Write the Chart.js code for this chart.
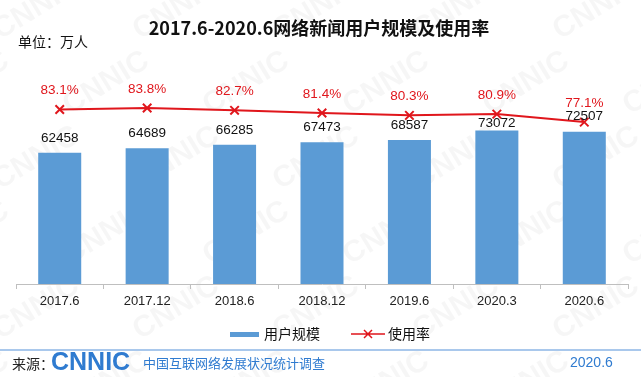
<!DOCTYPE html>
<html lang="zh">
<head>
<meta charset="UTF-8">
<title>2017.6-2020.6网络新闻用户规模及使用率</title>
<script src="https://cdn.jsdelivr.net/npm/chart.js"></script>
<style>
  body { margin: 0; background: #fff; }
  canvas { display: block; }
</style>
</head>
<body>
<canvas id="chart" width="641" height="377"></canvas>
<script>
// values
const periods = ['2017.6', '2017.12', '2018.6', '2018.12', '2019.6', '2020.3', '2020.6'];
const users = [62458, 64689, 66285, 67473, 68587, 73072, 72507];      // 万人
const usageRate = [83.1, 83.8, 82.7, 81.4, 80.3, 80.9, 77.1];          // %

const CJK = '"Noto Sans CJK SC", sans-serif';
const LAT = '"Liberation Sans", Arial, sans-serif';
const BLUE = '#5B9BD5';
const RED = '#E0161C';

const extras = {
    id: 'extras',
    beforeDraw(chart) {
        const ctx = chart.ctx;
        ctx.save();
        ctx.fillStyle = '#fff';
        ctx.fillRect(0, 0, chart.width, chart.height);
        // CNNIC watermark
        ctx.font = 'bold 30px ' + LAT;
        ctx.fillStyle = 'rgba(0,0,0,0.035)';
        for (let row = -1; row < 7; row++) {
            for (let col = -1; col < 6; col++) {
                const x = col * 140 + (row % 2) * 70;
                const y = row * 75 + 40;
                ctx.save();
                ctx.translate(x, y);
                ctx.rotate(-0.55);
                ctx.fillText('CNNIC', 0, 0);
                ctx.restore();
            }
        }
        ctx.restore();
    },
    afterDatasetsDraw(chart) {
        const ctx = chart.ctx;
        const points = chart.getDatasetMeta(0).data;
        ctx.save();
        ctx.textAlign = 'center';
        ctx.textBaseline = 'middle';
        ctx.font = '13.5px ' + LAT;
        ctx.fillStyle = '#111';
        chart.getDatasetMeta(1).data.forEach((bar, i) => {
            let y = bar.y - 15;
            // tuck the label under the line when the cross sits right on it
            if (Math.abs(points[i].y - y) < 4) y = bar.y - 7;
            ctx.fillText(users[i], bar.x, y);
        });
        ctx.fillStyle = RED;
        points.forEach((pt, i) => {
            ctx.fillText(usageRate[i].toFixed(1) + '%', pt.x, pt.y - 19);
        });
        ctx.restore();
    },
    afterDraw(chart) {
        const ctx = chart.ctx;
        ctx.save();
        ctx.textBaseline = 'middle';

        // title
        ctx.fillStyle = '#111';
        ctx.textAlign = 'center';
        ctx.font = 'bold 18px ' + CJK;
        ctx.fillText('2017.6-2020.6网络新闻用户规模及使用率', 319, 28);
        ctx.textAlign = 'left';
        ctx.font = '14px ' + CJK;
        ctx.fillText('单位：万人', 18, 42);

        // legend
        ctx.fillStyle = BLUE;
        ctx.fillRect(230, 332, 29, 5);
        ctx.fillStyle = '#111';
        ctx.font = '14px ' + CJK;
        ctx.fillText('用户规模', 264, 334);
        ctx.strokeStyle = RED;
        ctx.lineWidth = 1.5;
        ctx.beginPath();
        ctx.moveTo(351, 334); ctx.lineTo(385, 334);
        ctx.moveTo(364, 330); ctx.lineTo(372, 338);
        ctx.moveTo(372, 330); ctx.lineTo(364, 338);
        ctx.stroke();
        ctx.fillText('使用率', 388, 334);

        // footer
        ctx.fillStyle = '#A9C8EC';
        ctx.fillRect(0, 349, chart.width, 2);
        ctx.fillStyle = '#222';
        ctx.font = '14px ' + CJK;
        ctx.fillText('来源：', 12, 364);
        ctx.fillStyle = '#2F7BD0';
        ctx.font = 'bold 25px ' + LAT;
        ctx.fillText('CNNIC', 51, 363);
        ctx.font = '13px ' + CJK;
        ctx.fillText('中国互联网络发展状况统计调查', 143, 363);
        ctx.font = '14px ' + LAT;
        ctx.fillText('2020.6', 570, 363);
        ctx.restore();
    }
};

new Chart(document.getElementById('chart'), {
    data: {
        labels: periods,
        datasets: [
            {
                type: 'line',
                label: '使用率',
                data: usageRate,
                yAxisID: 'yRate',
                borderColor: RED,
                borderWidth: 2,
                pointStyle: 'crossRot',
                pointRadius: 6,
                pointBorderWidth: 2,
                pointBorderColor: RED,
                tension: 0,
                order: 1
            },
            {
                type: 'bar',
                label: '用户规模',
                data: users,
                yAxisID: 'yUsers',
                backgroundColor: BLUE,
                barPercentage: 0.6,
                categoryPercentage: 0.82,
                order: 2
            }
        ]
    },
    options: {
        responsive: false,
        animation: false,
        layout: { padding: { left: 16, right: 13, top: 74, bottom: 63 } },
        plugins: {
            legend: { display: false },
            tooltip: { enabled: false }
        },
        scales: {
            x: {
                afterFit: s => { s.height = 30; },
                grid: { offset: true, drawOnChartArea: false, drawTicks: true, tickLength: 5, color: '#BFBFBF' },
                border: { color: '#BFBFBF' },
                ticks: { color: '#222', font: { family: LAT, size: 13 }, padding: 5 }
            },
            yUsers: { axis: 'y', type: 'linear', display: false, min: 0, max: 100000 },
            yRate: { axis: 'y', type: 'linear', display: false, min: 0, max: 100 }
        }
    },
    plugins: [extras]
});
</script>
</body>
</html>
